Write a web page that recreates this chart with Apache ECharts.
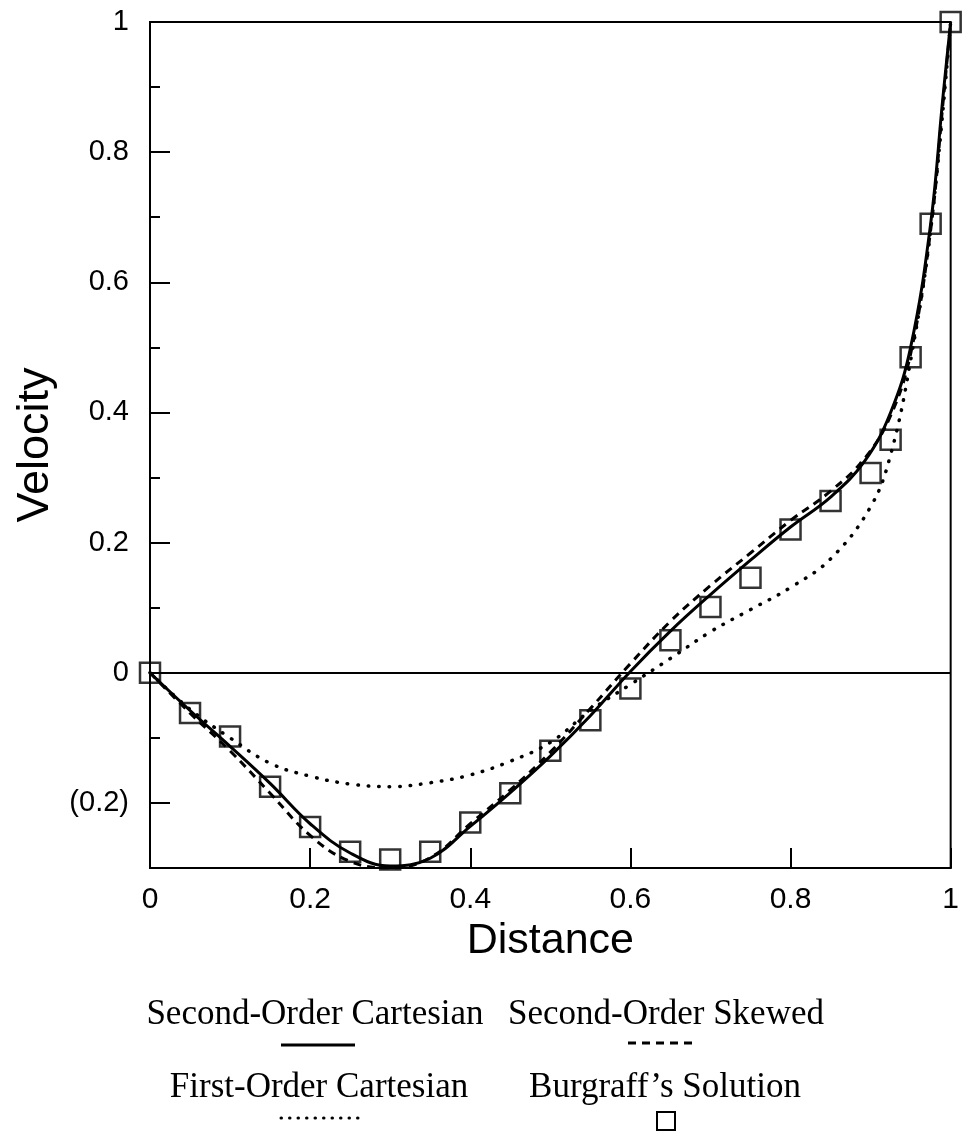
<!DOCTYPE html>
<html>
<head>
<meta charset="utf-8">
<script src="https://cdn.jsdelivr.net/npm/echarts@6/dist/echarts.min.js"></script>
<style>
  html, body { margin: 0; padding: 0; background: #fff; }
  #chart { width: 962px; height: 1133px; }
</style>
</head>
<body>
<div id="chart"></div>
<script>
// distances where the two second-order curves were read
const xCurve = [0, 0.05, 0.1, 0.15, 0.2, 0.25, 0.3, 0.35, 0.4, 0.45, 0.5, 0.55, 0.6, 0.65, 0.7, 0.75, 0.8, 0.85, 0.893, 0.925, 0.95, 0.975, 0.99, 1.0];
const secondOrderCartesian = [0, -0.058, -0.113, -0.17, -0.232, -0.277, -0.297, -0.285, -0.236, -0.184, -0.128, -0.066, 0.002, 0.064, 0.12, 0.173, 0.224, 0.27, 0.326, 0.40, 0.50, 0.69, 0.88, 1.0];
const secondOrderSkewed = [0, -0.062, -0.12, -0.185, -0.25, -0.29, -0.3, -0.284, -0.232, -0.18, -0.122, -0.055, 0.014, 0.079, 0.134, 0.184, 0.234, 0.279, 0.33, 0.395, 0.49, 0.68, 0.87, 1.0];

// first-order curve
const xFirst = [0, 0.05, 0.1, 0.15, 0.2, 0.25, 0.3, 0.35, 0.4, 0.45, 0.5, 0.55, 0.6, 0.65, 0.7, 0.75, 0.8, 0.85, 0.9, 0.925, 0.95, 0.975, 1.0];
const firstOrderCartesian = [0, -0.056, -0.1, -0.139, -0.159, -0.171, -0.175, -0.169, -0.157, -0.136, -0.107, -0.058, -0.018, 0.022, 0.063, 0.097, 0.131, 0.175, 0.255, 0.335, 0.48, 0.68, 1.0];

// Burgraff's solution (squares)
const xBurgraff = [0, 0.05, 0.1, 0.15, 0.2, 0.25, 0.3, 0.35, 0.4, 0.45, 0.5, 0.55, 0.6, 0.65, 0.7, 0.75, 0.8, 0.85, 0.9, 0.925, 0.95, 0.975, 1.0];
const burgraffSolution = [0, -0.062, -0.098, -0.175, -0.237, -0.275, -0.287, -0.275, -0.23, -0.185, -0.12, -0.073, -0.024, 0.05, 0.101, 0.146, 0.22, 0.264, 0.307, 0.358, 0.485, 0.69, 1.0];

const xTicks = [0, 0.2, 0.4, 0.6, 0.8, 1];
const yMajorTicks = [-0.2, 0, 0.2, 0.4, 0.6, 0.8, 1];
const yMinorTicks = [-0.1, 0.1, 0.3, 0.5, 0.7, 0.9];

const legendNames = ['Second-Order Cartesian', 'Second-Order Skewed', 'First-Order Cartesian', "Burgraff\u2019s Solution"];

const zip = (xs, ys) => xs.map((x, i) => [x, ys[i]]);

const fmtY = v => {
  const s = String(Math.round(Math.abs(v) * 10) / 10);
  return v < 0 ? '(' + s + ')' : s;
};

const sans = '"Liberation Sans", Arial, sans-serif';
const serif = '"Liberation Serif", "Times New Roman", serif';
const legendFont = '35px ' + serif;

const chart = echarts.init(document.getElementById('chart'));

const legendText = (text, x, y) => ({
  type: 'text', x, y,
  style: { text, font: legendFont, fill: '#000', align: 'center', verticalAlign: 'middle', textAlign: 'center', textVerticalAlign: 'middle' }
});

const option = {
  backgroundColor: '#fff',
  animation: false,
  grid: {
    left: 150, right: 5, top: 22, bottom: 265,
    show: true, borderColor: '#000', borderWidth: 2, backgroundColor: 'transparent'
  },
  xAxis: {
    type: 'value',
    min: 0, max: 1, interval: 0.2,
    name: 'Distance',
    nameLocation: 'middle',
    nameGap: 52,
    nameTextStyle: { fontSize: 43, fontFamily: sans, color: '#000' },
    axisLine: { onZero: false, lineStyle: { color: '#000', width: 2 } },
    axisTick: { inside: true, length: 20, lineStyle: { color: '#000', width: 2 }, customValues: xTicks },
    axisLabel: {
      customValues: xTicks,
      margin: 17, fontSize: 30, fontFamily: sans, color: '#000',
      formatter: v => String(Math.round(v * 10) / 10)
    },
    splitLine: { show: false }
  },
  yAxis: [
    {
      type: 'value',
      min: -0.3, max: 1,
      name: 'Velocity',
      nameLocation: 'middle',
      nameRotate: 90,
      nameGap: 92,
      nameTextStyle: { fontSize: 45, fontFamily: sans, color: '#000' },
      axisLine: { show: true, lineStyle: { color: '#000', width: 2 } },
      axisTick: { inside: true, length: 20, lineStyle: { color: '#000', width: 2 }, customValues: yMajorTicks },
      axisLabel: {
        customValues: yMajorTicks,
        margin: 21, fontSize: 29, fontFamily: sans, color: '#000',
        formatter: fmtY
      },
      splitLine: { show: false }
    },
    {
      type: 'value',
      min: -0.3, max: 1,
      position: 'left',
      axisLine: { show: false },
      axisTick: { show: true, inside: true, length: 10, lineStyle: { color: '#000', width: 2 }, customValues: yMinorTicks },
      axisLabel: { show: false },
      splitLine: { show: false }
    }
  ],
  series: [
    {
      name: legendNames[0],
      type: 'line',
      data: zip(xCurve, secondOrderCartesian),
      showSymbol: false,
      smooth: 0.4,
      lineStyle: { color: '#000', width: 3 },
      markLine: {
        silent: true,
        symbol: ['none', 'none'],
        label: { show: false },
        lineStyle: { color: '#000', width: 2, type: 'solid' },
        data: [{ yAxis: 0 }]
      }
    },
    {
      name: legendNames[1],
      type: 'line',
      data: zip(xCurve, secondOrderSkewed),
      showSymbol: false,
      smooth: 0.4,
      lineStyle: { color: '#000', width: 3, type: [8, 6] }
    },
    {
      name: legendNames[2],
      type: 'line',
      data: zip(xFirst, firstOrderCartesian),
      showSymbol: false,
      smooth: 0.4,
      lineStyle: { color: '#000', width: 3.5, type: [0.5, 10], cap: 'round' }
    },
    {
      name: legendNames[3],
      type: 'scatter',
      data: zip(xBurgraff, burgraffSolution),
      symbol: 'rect',
      symbolSize: 20,
      clip: false,
      z: 5,
      itemStyle: { color: 'rgba(255,255,255,0)', borderColor: '#000', borderWidth: 2.5 }
    }
  ],
  graphic: [
    legendText(legendNames[0], 315, 1015),
    legendText(legendNames[1], 666, 1015),
    legendText(legendNames[2], 319, 1088),
    legendText(legendNames[3], 665, 1088),
    { type: 'line', shape: { x1: 281, y1: 1045, x2: 355, y2: 1045 }, style: { stroke: '#000', lineWidth: 3 } },
    { type: 'line', shape: { x1: 628, y1: 1043, x2: 697, y2: 1043 }, style: { stroke: '#000', lineWidth: 3, lineDash: [8, 6] } },
    { type: 'line', shape: { x1: 281, y1: 1118, x2: 360, y2: 1118 }, style: { stroke: '#000', lineWidth: 3, lineDash: [0.5, 8], lineCap: 'round' } },
    { type: 'rect', shape: { x: 657, y: 1112, width: 18, height: 18 }, style: { fill: 'none', stroke: '#000', lineWidth: 2 } }
  ]
};

chart.setOption(option);
</script>
</body>
</html>
